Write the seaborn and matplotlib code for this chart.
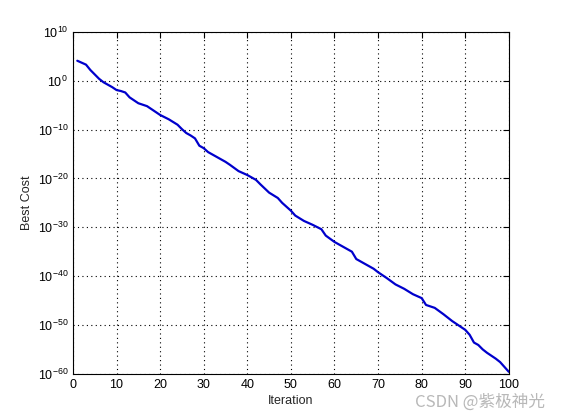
import numpy as np
import pandas as pd
import matplotlib
matplotlib.use("Agg")
import matplotlib.pyplot as plt
import seaborn as sns

iteration = [1, 2, 3, 4, 5, 6, 7, 8, 9, 10, 11, 12, 13, 14, 15, 16, 17, 18, 19, 20,
             22, 24, 25, 26, 27, 28, 29, 30, 31, 33, 35, 36, 38, 40, 42, 43, 45, 47,
             48, 50, 51, 53, 55, 57, 58, 60, 62, 64, 65, 67, 69, 70, 72, 74, 76, 78,
             80, 81, 83, 85, 87, 89, 90, 91, 92, 93, 94, 95, 97, 98, 99, 100]
log_cost = [4.1, 3.7, 3.3, 2.2, 1.3, 0.4, -0.3, -0.8, -1.3, -1.9, -2.1, -2.4, -3.4,
            -4.0, -4.6, -4.9, -5.2, -5.8, -6.4, -7.0, -7.9, -9.0, -9.9, -10.7, -11.2,
            -11.8, -13.3, -13.8, -14.6, -15.6, -16.6, -17.2, -18.5, -19.3, -20.3,
            -21.2, -22.9, -24.0, -25.0, -26.6, -27.6, -28.7, -29.5, -30.4, -31.7,
            -33.0, -34.0, -35.0, -36.5, -37.5, -38.5, -39.2, -40.4, -41.7, -42.6,
            -43.7, -44.5, -45.9, -46.5, -47.8, -49.2, -50.4, -51.0, -52.0, -53.6,
            -54.1, -55.0, -55.7, -56.9, -57.6, -58.6, -59.6]
y_ticks = [1e10, 1e0, 1e-10, 1e-20, 1e-30, 1e-40, 1e-50, 1e-60]
x_ticks = [0, 10, 20, 30, 40, 50, 60, 70, 80, 90, 100]

df = pd.DataFrame({"Iteration": iteration, "Best Cost": 10.0 ** np.array(log_cost)})

sns.set_style("white")
plt.rcParams["font.family"] = ["Liberation Sans", "DejaVu Sans"]
plt.rcParams["mathtext.fontset"] = "custom"
plt.rcParams["mathtext.rm"] = "Liberation Sans"

fig = plt.figure(figsize=(5.61, 4.20), dpi=100)
ax = fig.add_axes([0.130, 0.110, 0.777, 0.814])

sns.lineplot(data=df, x="Iteration", y="Best Cost", ax=ax,
             color="#0000cc", linewidth=1.6)
ax.set_yscale("log")
ax.set_xlim(0, 100)
ax.set_ylim(1e-60, 1e10)
ax.set_xticks(x_ticks)
ax.set_yticks(y_ticks)
ax.minorticks_off()

ax.grid(True, linestyle=(0, (1, 3)), color="black", linewidth=0.8)
ax.tick_params(direction="in", top=True, right=True, length=4, width=0.8,
               labelsize=9, colors="black")
for s in ax.spines.values():
    s.set_color("black")
    s.set_linewidth(0.8)

ax.set_xlabel("Iteration", fontsize=9, labelpad=3)
ax.set_ylabel("Best Cost", fontsize=9, labelpad=3)

fig.text(0.972, 0.043, "CSDN @紫极神光", ha="right", va="center", fontsize=12,
         color="#b8b8b8", family=["Noto Sans CJK SC", "DejaVu Sans"])

fig.savefig("out.png", dpi=100)
